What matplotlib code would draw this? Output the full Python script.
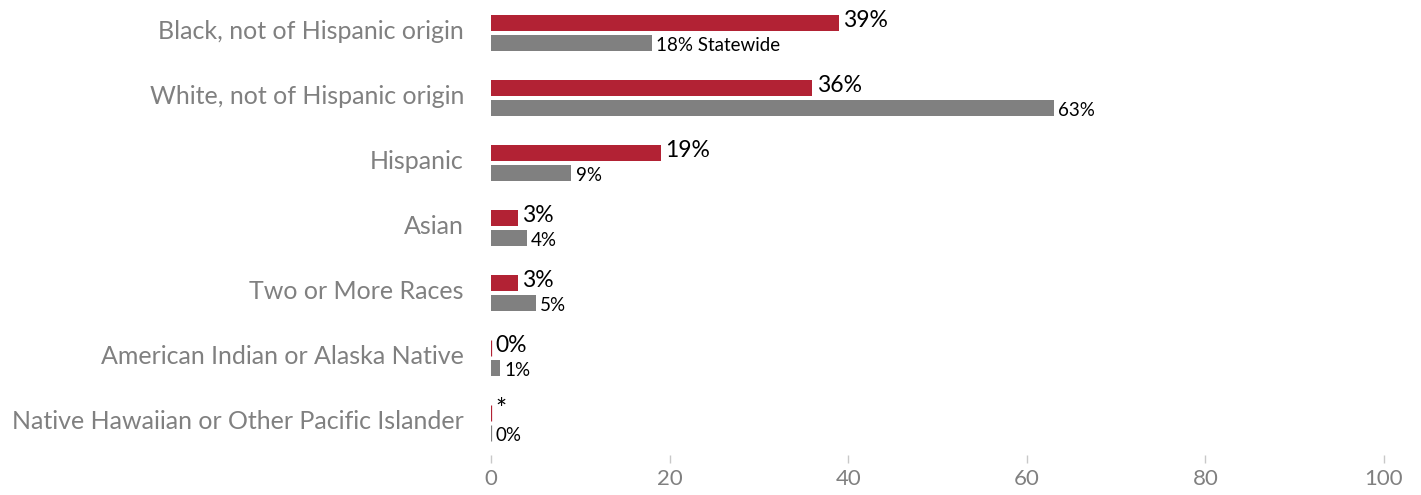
import numpy as np
import matplotlib.pyplot as plt

categories = [
    "Black, not of Hispanic origin",
    "White, not of Hispanic origin",
    "Hispanic",
    "Asian",
    "Two or More Races",
    "American Indian or Alaska Native",
    "Native Hawaiian or Other Pacific Islander",
]
local_pct = [39, 36, 19, 3, 3, 0, 0]
local_labels = ["39%", "36%", "19%", "3%", "3%", "0%", "*"]
state_pct = [18, 63, 9, 4, 5, 1, 0]
state_labels = ["18% Statewide", "63%", "9%", "4%", "5%", "1%", "0%"]
xticks = [0, 20, 40, 60, 80, 100]

red = "#B22234"
grey = "#808080"
plt.rcParams['font.family'] = ['Lato', 'DejaVu Sans']

fig = plt.figure(figsize=(14.21, 4.95), dpi=100)
ax = fig.add_axes([491 / 1421, 40 / 495, 893 / 1421, 455 / 495])

y = np.arange(len(categories))
h = 0.246
off = 0.154

# zero values still get a hairline, as in the original
lw_local = [0.9 if v == 0 else 0 for v in local_pct]
lw_state = [0.9 if v == 0 else 0 for v in state_pct]
ax.barh(y - off, local_pct, height=h, color=red, edgecolor=red, linewidth=lw_local)
ax.barh(y + off, state_pct, height=h, color=grey, edgecolor=grey, linewidth=lw_state)

for i in range(len(categories)):
    fs = 19 if local_labels[i] == "*" else 16.5
    ax.annotate(local_labels[i], (local_pct[i], y[i] - off), xytext=(3, 2),
                textcoords="offset points", va="center", ha="left",
                fontsize=fs, color="black")
    ax.annotate(state_labels[i], (state_pct[i], y[i] + off), xytext=(3, -2),
                textcoords="offset points", va="center", ha="left",
                fontsize=13.5, color="black")

ax.set_xlim(0, 100)
ax.set_ylim(6.492, -0.508)
ax.set_xticks(xticks)
ax.set_xticklabels([str(t) for t in xticks])
ax.set_yticks(y - 0.06)
ax.set_yticklabels(categories)
ax.tick_params(axis="y", length=0, pad=19.5, labelsize=18, labelcolor=grey)
ax.tick_params(axis="x", length=6, width=1, color="#c8c8c8", pad=4,
               labelsize=16, labelcolor=grey)
for s in ax.spines.values():
    s.set_visible(False)

fig.savefig("out.png", dpi=100)
